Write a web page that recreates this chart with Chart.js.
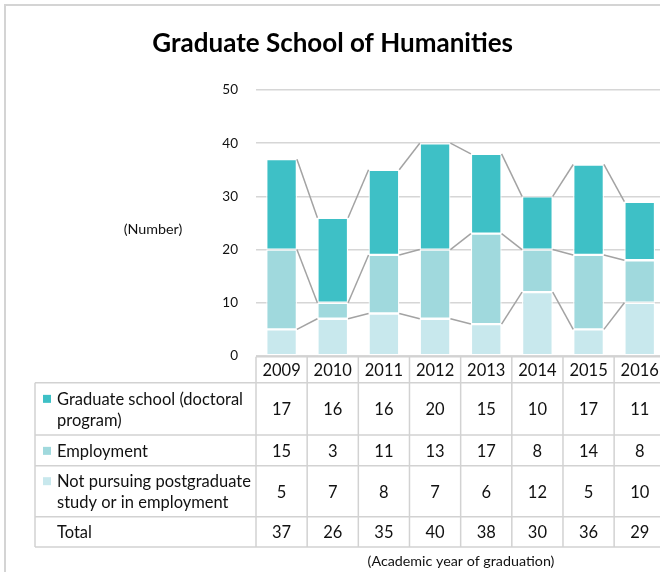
<!DOCTYPE html>
<html>
<head>
<meta charset="utf-8">
<script src="https://cdn.jsdelivr.net/npm/chart.js@4"></script>
<style>
  html, body { margin: 0; padding: 0; background: #fff; overflow: hidden; }
  #frame { position: absolute; left: 4px; top: 4px; width: 700px; height: 600px;
           border-left: 2px solid #d4d4d4; border-top: 2px solid #d4d4d4; }
  #chart { position: absolute; left: 0; top: 0; }
</style>
</head>
<body>
<div id="frame"></div>
<canvas id="chart" width="670" height="572"></canvas>
<script>
// Graduate School of Humanities - destinations by year
const years = ['2009', '2010', '2011', '2012', '2013', '2014', '2015', '2016'];
const doctoral = [17, 16, 16, 20, 15, 10, 17, 11];
const employment = [15, 3, 11, 13, 17, 8, 14, 8];
const notPursuing = [5, 7, 8, 7, 6, 12, 5, 10];
const yTicks = [0, 10, 20, 30, 40, 50];

const FONT = 'Lato, "Open Sans", sans-serif';
const colors = { doctoral: '#3ec0c6', employment: '#a0d9dd', notPursuing: '#c8e8ed' };

// table rows, top to bottom (series drawn bottom-up in the stack)
const tableRows = [
    { label: 'Graduate school (doctoral program)', values: doctoral, color: colors.doctoral },
    { label: 'Employment', values: employment, color: colors.employment },
    { label: 'Not pursuing postgraduate study or in employment', values: notPursuing, color: colors.notPursuing },
    { label: 'Total', values: years.map((_, i) => doctoral[i] + employment[i] + notPursuing[i]), color: null }
];

function wrap(ctx, text, maxW) {
    const words = text.split(' ');
    const lines = [];
    let cur = '';
    words.forEach(w => {
        const t = cur ? cur + ' ' + w : w;
        if (ctx.measureText(t).width > maxW && cur) { lines.push(cur); cur = w; }
        else cur = t;
    });
    if (cur) lines.push(cur);
    return lines;
}

// grey connector lines between the tops of stacked segments
const seriesLines = {
    id: 'seriesLines',
    afterDatasetsDraw(chart) {
        const ctx = chart.ctx;
        ctx.save();
        ctx.strokeStyle = '#a3a3a3';
        ctx.lineWidth = 1.5;
        chart.data.datasets.forEach((ds, di) => {
            const bars = chart.getDatasetMeta(di).data;
            for (let i = 0; i < bars.length - 1; i++) {
                const a = bars[i], b = bars[i + 1];
                ctx.beginPath();
                ctx.moveTo(a.x + a.width / 2, a.y);
                ctx.lineTo(b.x - b.width / 2, b.y);
                ctx.stroke();
            }
        });
        ctx.restore();
    }
};

// data table under the plot + axis captions
const dataTable = {
    id: 'dataTable',
    afterDraw(chart) {
        const ctx = chart.ctx;
        const x = chart.scales.x;
        const cw = x.getPixelForValue(1) - x.getPixelForValue(0);
        const left0 = x.getPixelForValue(0) - cw / 2;
        const tableLeft = 35;
        const rowEdges = [356.7, 382.7, 435, 465.7, 516.7, 547];
        ctx.save();
        ctx.strokeStyle = '#d2d2d2';
        ctx.lineWidth = 1.5;
        // horizontal lines
        ctx.beginPath();
        ctx.moveTo(left0, rowEdges[0]); ctx.lineTo(chart.width, rowEdges[0]);
        for (let r = 1; r < rowEdges.length; r++) {
            ctx.moveTo(tableLeft, rowEdges[r]); ctx.lineTo(chart.width, rowEdges[r]);
        }
        // vertical lines
        ctx.moveTo(tableLeft, rowEdges[1]); ctx.lineTo(tableLeft, rowEdges[5]);
        for (let i = 0; i <= years.length; i++) {
            const px = left0 + i * cw;
            ctx.moveTo(px, rowEdges[0]); ctx.lineTo(px, rowEdges[5]);
        }
        ctx.stroke();

        ctx.fillStyle = '#111';
        ctx.font = '16.5px ' + FONT;
        ctx.textAlign = 'center';
        ctx.textBaseline = 'middle';
        years.forEach((y, i) => ctx.fillText(y, x.getPixelForValue(i), (rowEdges[0] + rowEdges[1]) / 2 + 1));

        tableRows.forEach((row, r) => {
            const cy = (rowEdges[r + 1] + rowEdges[r + 2]) / 2 + 1;
            ctx.textAlign = 'center';
            ctx.fillStyle = '#111';
            row.values.forEach((v, i) => ctx.fillText(String(v), x.getPixelForValue(i), cy));
            ctx.textAlign = 'left';
            const lines = wrap(ctx, row.label, 196);
            const lh = 21;
            const y0 = cy - (lines.length - 1) * lh / 2;
            lines.forEach((l, k) => ctx.fillText(l, 57, y0 + k * lh));
            if (row.color) {
                ctx.fillStyle = row.color;
                ctx.fillRect(43, y0 - 4.5, 8, 8);
            }
        });

        ctx.fillStyle = '#111';
        ctx.font = '14.3px ' + FONT;
        ctx.textAlign = 'center';
        ctx.fillText('(Number)', 153, 229);
        ctx.fillText('(Academic year of graduation)', 461, 561);
        ctx.restore();
    }
};

new Chart(document.getElementById('chart'), {
    type: 'bar',
    data: {
        labels: years,
        datasets: [
            { label: 'Not pursuing postgraduate study or in employment', data: notPursuing, backgroundColor: colors.notPursuing },
            { label: 'Employment', data: employment, backgroundColor: colors.employment },
            { label: 'Graduate school (doctoral program)', data: doctoral, backgroundColor: colors.doctoral }
        ].map(d => Object.assign(d, { borderColor: '#fff', borderWidth: 1.2, borderSkipped: false,
                                      categoryPercentage: 1, barPercentage: 0.6 }))
    },
    options: {
        responsive: false,
        animation: false,
        layout: { padding: { top: 0, left: 0, right: 4.7, bottom: 216 } },
        plugins: {
            legend: { display: false },
            tooltip: { enabled: false },
            title: {
                display: true,
                text: 'Graduate School of Humanities',
                color: '#000',
                font: { family: FONT, size: 26, weight: 'bold' },
                padding: { top: 28, bottom: 30.8 }
            }
        },
        scales: {
            x: { stacked: true, display: false, offset: true },
            y: {
                stacked: true,
                min: yTicks[0],
                max: yTicks[yTicks.length - 1],
                afterBuildTicks: s => { s.ticks = yTicks.map(v => ({ value: v })); },
                afterFit: s => { s.width = 256; },
                border: { display: false },
                grid: { color: '#d6d6d6', lineWidth: 1.5, drawTicks: false },
                ticks: { color: '#111', padding: 18, font: { family: FONT, size: 13.5 } }
            }
        }
    },
    plugins: [seriesLines, dataTable]
});
</script>
</body>
</html>
